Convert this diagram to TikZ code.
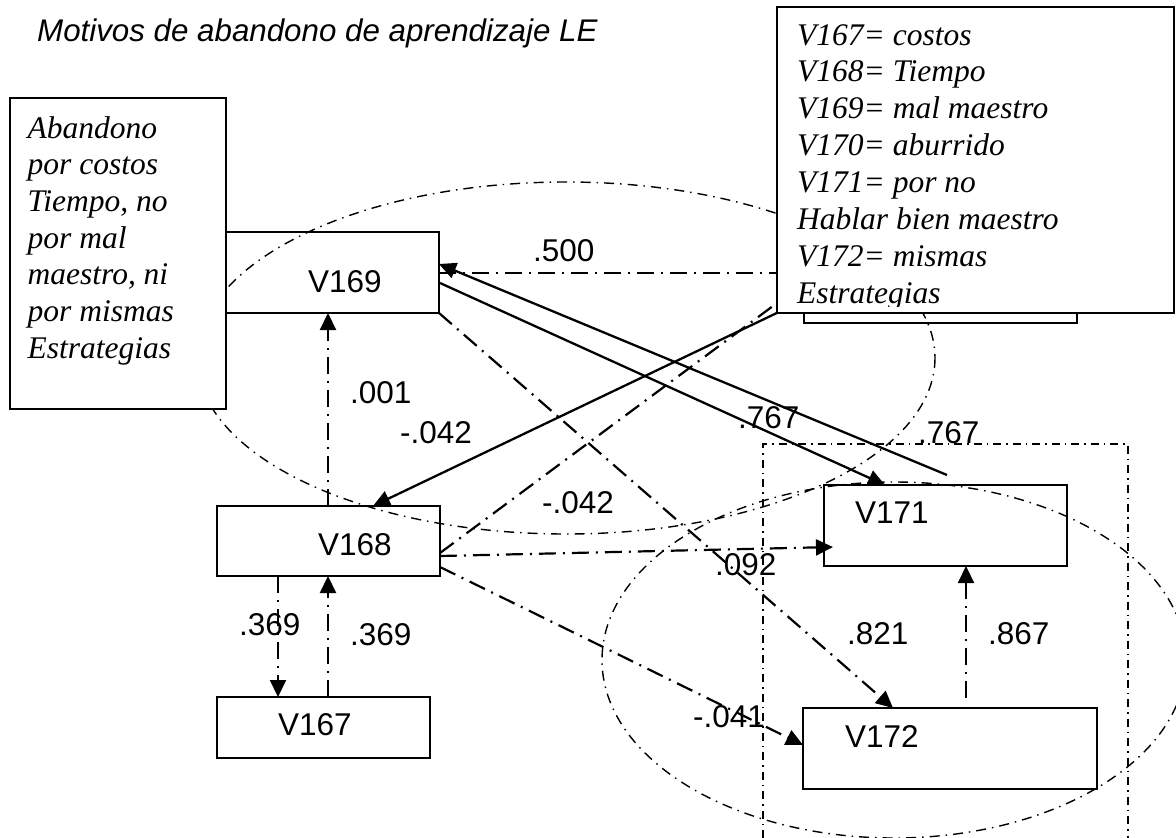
\documentclass[tikz,border=0pt]{standalone}
\usepackage{fontspec}
\setmainfont{Liberation Serif}
\setsansfont{Liberation Sans}
\usetikzlibrary{arrows.meta,calc}
\begin{document}
\begin{tikzpicture}[x=1pt,y=-1pt,
  boxst/.style={draw, line width=1.8pt, inner sep=0pt, outer sep=0pt, anchor=north west},
  bigbox/.style={draw, fill=white, line width=2.2pt, inner sep=0pt, outer sep=0pt, anchor=north west},
  lbl/.style={font=\sffamily\fontsize{31.5}{36}\selectfont, inner sep=0pt, anchor=base west},
  ttl/.style={font=\sffamily\itshape\fontsize{31.3}{36}\selectfont, inner sep=0pt, anchor=base west},
  ser/.style={font=\rmfamily\itshape\fontsize{31.5}{36.8}\selectfont, inner sep=0pt, anchor=base west},
  dd/.style={line width=2.2pt, dash pattern=on 17pt off 7pt on 2pt off 7pt},
  sol/.style={line width=2.3pt},
  arr/.style={-{Triangle[length=17pt,width=16pt]}},
  ell/.style={line width=1.4pt, dash pattern=on 10pt off 6pt on 1.5pt off 6pt},
  rdd/.style={line width=1.6pt, dash pattern=on 8pt off 5pt on 1.5pt off 5pt}
]
\useasboundingbox (0,0) rectangle (1176,838);
\fill[white] (0,0) rectangle (1176,838);

% ellipses and dash-dot frame
\coordinate (ec1) at (566,358);
\coordinate (ec2) at (894,660);
\draw[ell] (ec1) ellipse [x radius=369, y radius=176];
\draw[ell] (ec2) ellipse [x radius=292, y radius=178];
\coordinate (r1) at (763,838);
\coordinate (r2) at (763,444);
\coordinate (r3) at (1128,444);
\coordinate (r4) at (1128,838);
\draw[rdd] (r1) -- (r2) -- (r3) -- (r4);

% variable boxes
\node[boxst, minimum width=213pt, minimum height=81pt] (v169) at (226,232) {};
\node[boxst, minimum width=273pt, minimum height=83pt] (v170) at (804,240) {};
\node[boxst, minimum width=223pt, minimum height=70pt] (v168) at (217,506) {};
\node[boxst, minimum width=213pt, minimum height=61pt] (v167) at (217,697) {};
\node[boxst, minimum width=243pt, minimum height=81pt] (v171) at (824,485) {};
\node[boxst, minimum width=294pt, minimum height=81pt] (v172) at (803,708) {};

\node[lbl] (t169) at (308,292) {V169};
\node[lbl] (t168) at (318,555) {V168};
\node[lbl] (t167) at (278,735) {V167};
\node[lbl] (t171) at (855,523) {V171};
\node[lbl] (t172) at (845,747) {V172};

% connectors
\draw[dd,arr] ($(v168.north west)+(111,0)$) -- ($(v169.south west)+(102,0)$);
\draw[dd,arr] ($(v168.south west)+(61,0)$) -- ($(v167.north west)+(61,0)$);
\draw[dd,arr] ($(v167.north west)+(111,0)$) -- ($(v168.south west)+(111,0)$);
\draw[sol,arr] ($(v170.north west)+(0,60)$) -- ($(v168.north west)+(156,0)$);
\draw[dd] ($(v168.north east)+(0,47)$) -- ($(v170.north west)+(0,43)$);
\draw[dd] ($(v169.north east)+(0,41)$) -- ($(v170.north west)+(0,33)$);
\draw[sol,arr] ($(v171.north west)+(123,-10)$) -- ($(v169.north east)+(0,32)$);
\draw[sol,arr] ($(v169.north east)+(1,51)$) -- ($(v171.north west)+(61,0)$);
\draw[dd,arr] (v169.south east) -- ($(v172.north west)+(90,0)$);
\draw[dd,arr] ($(v168.north east)+(0,50)$) -- ($(v171.north west)+(9,62)$);
\draw[dd,arr] ($(v168.north east)+(0,61)$) -- ($(v172.north west)+(0,37)$);
\draw[dd,arr] ($(v172.north west)+(163,-10)$) -- ($(v171.south west)+(142,0)$);

% left explanation box
\node[bigbox, minimum width=216pt, minimum height=311pt] (leftbox) at (10,98) {};
\foreach \t [count=\i] in {Abandono, por costos, {Tiempo, no}, por mal, {maestro, ni}, por mismas, Estrategias}
  \node[ser] (lb\i) at (27.5,{138+36.7*(\i-1)}) {\t};

% legend box
\node[bigbox, minimum width=397pt, minimum height=306pt] (legend) at (777,7) {};
\begin{scope}
\clip (779,9) rectangle (1173,306);
\foreach \t [count=\i] in {V167= costos, V168= Tiempo, V169= mal maestro, V170= aburrido, V171= por no, Hablar bien maestro, V172= mismas, Estrategias}
  \node[ser] (lg\i) at (797,{45+36.9*(\i-1)}) {\t};
\end{scope}

% title
\node[ttl] (title) at (37,41) {Motivos de abandono de aprendizaje LE};

% coefficient labels
\node[lbl] (c500) at (533,261) {.500};
\node[lbl] (c001) at (350,403) {.001};
\node[lbl] (c042a) at (400,443) {-.042};
\node[lbl] (c042b) at (542,513) {-.042};
\node[lbl] (c767a) at (738,428) {.767};
\node[lbl] (c767b) at (918,443) {.767};
\node[lbl] (c369a) at (239,635) {.369};
\node[lbl] (c369b) at (350,645) {.369};
\node[lbl] (c092) at (715,575) {.092};
\node[lbl] (c821) at (847,644) {.821};
\node[lbl] (c867) at (988,644) {.867};
\node[lbl] (c041) at (693,727) {-.041};
\end{tikzpicture}
\end{document}
